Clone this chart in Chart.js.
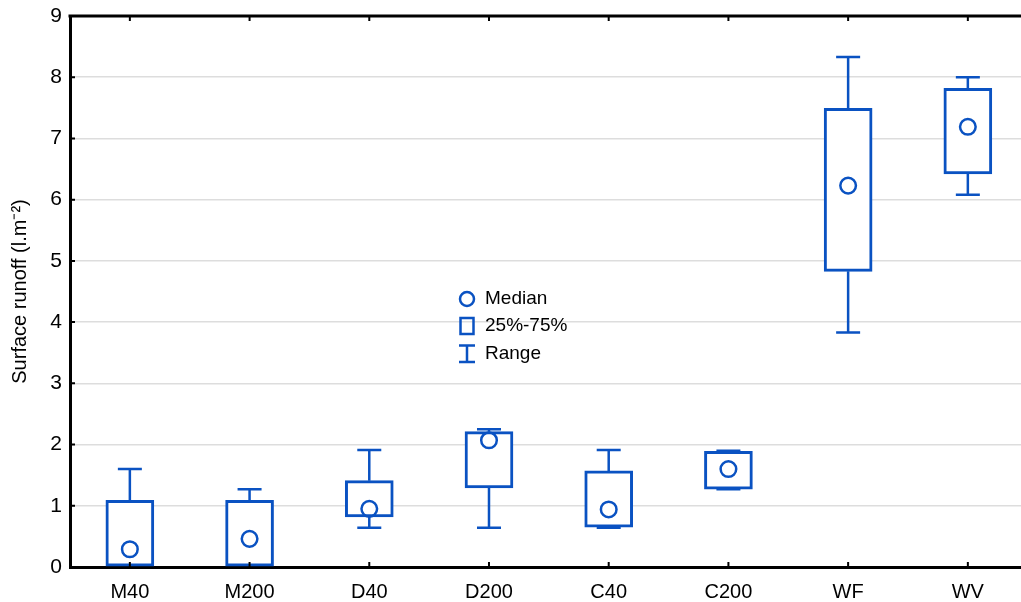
<!DOCTYPE html>
<html>
<head>
<meta charset="utf-8">
<script src="https://cdn.jsdelivr.net/npm/chart.js@4.4.1/dist/chart.umd.min.js"></script>
<style>
  html, body { margin: 0; padding: 0; overflow: hidden; background: #fff; }
  #wrap { width: 1038px; height: 602px; }
</style>
</head>
<body>
<div id="wrap"><canvas id="c" width="1038" height="602"></canvas></div>
<script>
const categories = ['M40', 'M200', 'D40', 'D200', 'C40', 'C200', 'WF', 'WV'];
const minVals    = [0.00, 0.00, 0.64, 0.64, 0.64, 1.27, 3.83, 6.08];
const q1Vals     = [0.00, 0.00, 0.82, 1.29, 0.65, 1.27, 4.83, 6.42];
const medianVals = [0.29, 0.46, 0.95, 2.07, 0.94, 1.60, 6.23, 7.19];
const q3Vals     = [1.09, 1.09, 1.41, 2.21, 1.57, 1.89, 7.49, 7.82];
const maxVals    = [1.60, 1.27, 1.91, 2.25, 1.91, 1.90, 8.33, 8.00];
const yMin = 0, yMax = 9, yStep = 1;
const legendLabels = ['Median', '25%-75%', 'Range'];

const BLUE = '#0a52c2';
const FONT = '"Liberation Sans", Arial, sans-serif';

const boxData = categories.map((_, i) => [q1Vals[i], q3Vals[i]]);

const boxPlugin = {
  id: 'boxExtras',
  beforeDatasetsDraw(chart) {
    const ctx = chart.ctx, x = chart.scales.x, y = chart.scales.y;
    ctx.save();
    ctx.strokeStyle = BLUE;
    ctx.lineWidth = 2.5;
    const cap = 12;
    categories.forEach((c, i) => {
      const px = x.getPixelForValue(i);
      const pMin = y.getPixelForValue(minVals[i]);
      const pQ1 = y.getPixelForValue(q1Vals[i]);
      const pQ3 = y.getPixelForValue(q3Vals[i]);
      const pMax = y.getPixelForValue(maxVals[i]);
      ctx.beginPath();
      ctx.moveTo(px, pQ3); ctx.lineTo(px, pMax);
      ctx.moveTo(px - cap, pMax); ctx.lineTo(px + cap, pMax);
      if (minVals[i] > yMin) {
        ctx.moveTo(px, pQ1); ctx.lineTo(px, pMin);
        ctx.moveTo(px - cap, pMin); ctx.lineTo(px + cap, pMin);
      }
      ctx.stroke();
    });
    ctx.restore();
  },
  afterDraw(chart) {
    const ctx = chart.ctx, x = chart.scales.x, y = chart.scales.y;
    const a = chart.chartArea;
    ctx.save();
    // top border
    ctx.strokeStyle = '#000';
    ctx.lineWidth = 3;
    ctx.beginPath();
    ctx.moveTo(a.left - 1.5, a.top); ctx.lineTo(a.right + 20, a.top);
    ctx.stroke();
    // inward ticks
    ctx.lineWidth = 2;
    ctx.beginPath();
    categories.forEach((c, i) => {
      const px = x.getPixelForValue(i);
      ctx.moveTo(px, a.bottom); ctx.lineTo(px, a.bottom - 5);
      ctx.moveTo(px, a.top); ctx.lineTo(px, a.top + 5);
    });
    for (let v = yMin; v <= yMax; v += yStep) {
      const py = y.getPixelForValue(v);
      ctx.moveTo(a.left, py); ctx.lineTo(a.left + 5, py);
    }
    ctx.stroke();
    // legend
    const lx = 467;
    ctx.strokeStyle = BLUE;
    ctx.lineWidth = 2.5;
    ctx.beginPath();
    ctx.arc(lx, 299, 7, 0, Math.PI * 2);
    ctx.stroke();
    ctx.strokeRect(lx - 6.5, 318, 13, 16);
    ctx.beginPath();
    ctx.moveTo(lx - 8, 345.5); ctx.lineTo(lx + 8, 345.5);
    ctx.moveTo(lx, 345.5); ctx.lineTo(lx, 362);
    ctx.moveTo(lx - 8, 362); ctx.lineTo(lx + 8, 362);
    ctx.stroke();
    ctx.fillStyle = '#000';
    ctx.font = '19px ' + FONT;
    ctx.textBaseline = 'middle';
    ctx.textAlign = 'left';
    ctx.fillText(legendLabels[0], 485, 299);
    ctx.fillText(legendLabels[1], 485, 326);
    ctx.fillText(legendLabels[2], 485, 354);
    ctx.restore();
  }
};

new Chart(document.getElementById('c'), {
  data: {
    labels: categories,
    datasets: [
      {
        type: 'line',
        label: 'Median',
        data: medianVals,
        showLine: false,
        pointStyle: 'circle',
        pointRadius: 7.8,
        pointBorderWidth: 2.5,
        pointBorderColor: BLUE,
        pointBackgroundColor: 'rgba(255,255,255,0)',
        order: 0
      },
      {
        type: 'bar',
        label: '25%-75%',
        data: boxData,
        backgroundColor: '#ffffff',
        borderColor: BLUE,
        borderWidth: 3,
        borderSkipped: false,
        barThickness: 48,
        order: 1
      }
    ]
  },
  options: {
    responsive: false,
    animation: false,
    layout: { padding: { top: 16, left: 0, right: 0, bottom: 0 } },
    plugins: { legend: { display: false }, tooltip: { enabled: false } },
    scales: {
      x: {
        type: 'category',
        offset: true,
        grid: { display: false, drawTicks: false },
        border: { display: true, color: '#000', width: 3 },
        ticks: { color: '#000', font: { size: 20, family: FONT }, padding: 13 },
        afterFit(s) { s.height = 35; }
      },
      y: {
        min: yMin, max: yMax,
        ticks: { stepSize: yStep, color: '#000', font: { size: 21, family: FONT }, padding: 8 },
        grid: { color: '#dddddd', lineWidth: 1.5, drawTicks: false },
        border: { display: true, color: '#000', width: 3 },
        title: {
          display: true,
          text: 'Surface runoff (l.m⁻²)',
          color: '#000',
          font: { size: 20, family: FONT },
          padding: { top: 8, bottom: 4 }
        },
        afterFit(s) { s.width = 70; s.paddingTop = 0; s.paddingBottom = 0; }
      }
    }
  },
  plugins: [boxPlugin]
});
</script>
</body>
</html>
